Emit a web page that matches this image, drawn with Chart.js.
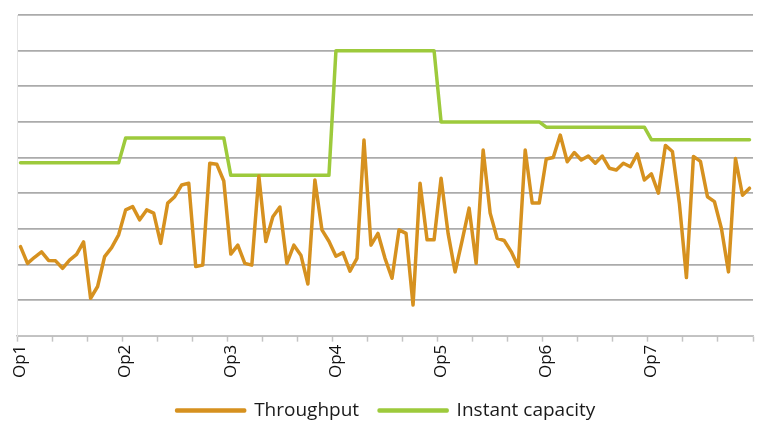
<!DOCTYPE html>
<html>
<head>
<meta charset="utf-8">
<script src="https://cdn.jsdelivr.net/npm/chart.js@4.4.1/dist/chart.umd.min.js"></script>
<style>
  html, body { margin: 0; padding: 0; background: #fff; }
  #wrap { width: 773px; height: 430px; }
</style>
</head>
<body>
<div id="wrap"><canvas id="chart" width="773" height="430"></canvas></div>
<script>
// operation names, one label every 15 samples
const opLabels = ["Op1", "Op2", "Op3", "Op4", "Op5", "Op6", "Op7"];
const samplesPerOp = 15;

// throughput (105 samples)
const throughput = [
  2.50, 2.03, 2.20, 2.35, 2.11, 2.10, 1.89, 2.12, 2.28, 2.63, 1.05, 1.38, 2.22, 2.47, 2.83,
  3.53, 3.62, 3.25, 3.53, 3.44, 2.59, 3.72, 3.90, 4.23, 4.28, 1.94, 1.98, 4.84, 4.81, 4.34,
  2.29, 2.54, 2.03, 1.98, 4.48, 2.64, 3.34, 3.61, 2.03, 2.54, 2.26, 1.45, 4.37, 2.97, 2.65,
  2.23, 2.33, 1.81, 2.17, 5.49, 2.54, 2.87, 2.17, 1.61, 2.97, 2.87, 0.86, 4.28, 2.69, 2.69,
  4.42, 2.87, 1.79, 2.67, 3.58, 2.03, 5.21, 3.44, 2.73, 2.67, 2.36, 1.94, 5.21, 3.72, 3.72,
  4.96, 5.00, 5.63, 4.88, 5.14, 4.93, 5.04, 4.84, 5.04, 4.70, 4.65, 4.84, 4.74, 5.10, 4.37,
  4.54, 4.00, 5.34, 5.17, 3.70, 1.63, 5.03, 4.89, 3.90, 3.76, 3.00, 1.79, 4.97, 3.94, 4.14
];

// instant capacity, flat per operation
const capacity = [
  4.85, 4.85, 4.85, 4.85, 4.85, 4.85, 4.85, 4.85, 4.85, 4.85, 4.85, 4.85, 4.85, 4.85, 4.85,
  5.55, 5.55, 5.55, 5.55, 5.55, 5.55, 5.55, 5.55, 5.55, 5.55, 5.55, 5.55, 5.55, 5.55, 5.55,
  4.50, 4.50, 4.50, 4.50, 4.50, 4.50, 4.50, 4.50, 4.50, 4.50, 4.50, 4.50, 4.50, 4.50, 4.50,
  8.00, 8.00, 8.00, 8.00, 8.00, 8.00, 8.00, 8.00, 8.00, 8.00, 8.00, 8.00, 8.00, 8.00, 8.00,
  6.00, 6.00, 6.00, 6.00, 6.00, 6.00, 6.00, 6.00, 6.00, 6.00, 6.00, 6.00, 6.00, 6.00, 6.00,
  5.85, 5.85, 5.85, 5.85, 5.85, 5.85, 5.85, 5.85, 5.85, 5.85, 5.85, 5.85, 5.85, 5.85, 5.85,
  5.50, 5.50, 5.50, 5.50, 5.50, 5.50, 5.50, 5.50, 5.50, 5.50, 5.50, 5.50, 5.50, 5.50, 5.50
];

const yMin = 0, yMax = 9, yStep = 1;

const categories = throughput.map((v, i) =>
  i % samplesPerOp === 0 ? opLabels[i / samplesPerOp] : "");

const orange = "#D6911F";
const green = "#9DCA3C";
const font = "'Open Sans', sans-serif";

new Chart(document.getElementById("chart").getContext("2d"), {
  type: "line",
  data: {
    labels: categories,
    datasets: [
      {
        label: "Throughput",
        data: throughput,
        borderColor: orange,
        backgroundColor: orange,
        borderWidth: 3.5,
        pointRadius: 0,
        tension: 0,
        borderJoinStyle: "round",
        borderCapStyle: "round"
      },
      {
        label: "Instant capacity",
        data: capacity,
        borderColor: green,
        backgroundColor: green,
        borderWidth: 3.5,
        pointRadius: 0,
        tension: 0,
        borderJoinStyle: "round",
        borderCapStyle: "round"
      }
    ]
  },
  options: {
    responsive: false,
    animation: false,
    layout: { padding: { left: 17, right: 18, top: 15, bottom: 0 } },
    plugins: {
      tooltip: { enabled: false },
      legend: {
        position: "bottom",
        labels: {
          boxWidth: 68,
          boxHeight: 1,
          padding: 20,
          color: "#1a1a1a",
          font: { family: font, size: 19 }
        }
      }
    },
    scales: {
      x: {
        offset: true,
        grid: {
          offset: true,
          drawOnChartArea: false,
          tickLength: 6,
          tickColor: c => (c.index === undefined || c.index % 5 === 0) ? "#C4C4C4" : "rgba(0,0,0,0)",
          tickWidth: 1.5
        },
        border: { color: "#C4C4C4", width: 1.5 },
        ticks: {
          autoSkip: false,
          minRotation: 90,
          maxRotation: 90,
          padding: 3,
          color: "#111",
          font: { family: font, size: 17 }
        }
      },
      y: {
        min: yMin,
        max: yMax,
        grid: { color: "#ABABAB", lineWidth: 1.7, drawTicks: false },
        border: { color: "#E4E4E4", width: 1 },
        ticks: { display: false, stepSize: yStep }
      }
    }
  }
});
</script>
</body>
</html>
